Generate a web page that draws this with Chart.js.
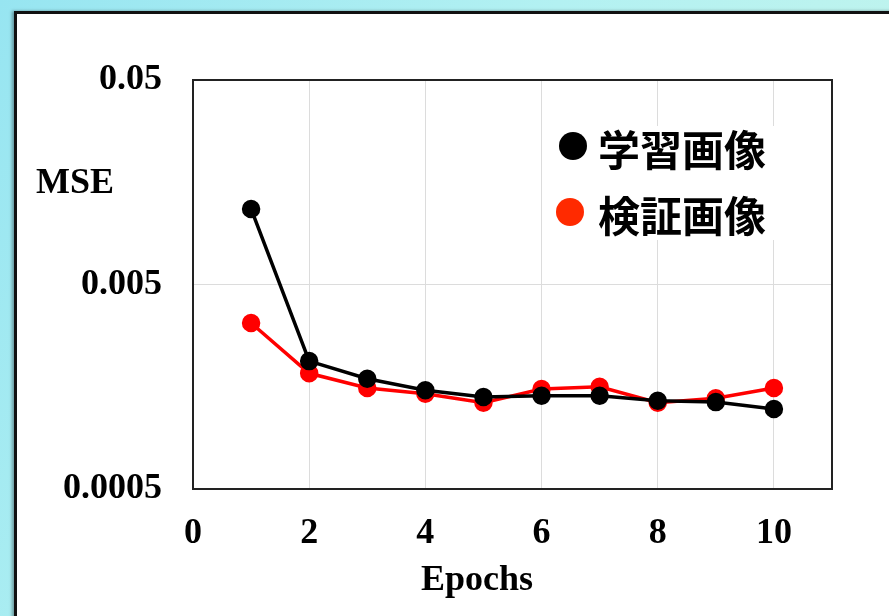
<!DOCTYPE html>
<html lang="ja">
<head>
<meta charset="utf-8"/>
<title>MSE vs Epochs</title>
<script src="https://cdn.jsdelivr.net/npm/chart.js@4.4.1/dist/chart.umd.min.js"></script>
<style>
  html, body { margin: 0; padding: 0; width: 889px; height: 616px; overflow: hidden; }
  body { background: linear-gradient(120deg, #97e5f1 0%, #b3f1f2 45%, #c8f6ea 100%); position: relative; }
  #panel {
    position: absolute; left: 14px; top: 11px; width: 900px; height: 620px;
    background: #fff; border: 3px solid #111; box-shadow: -2px 0 3px rgba(0,0,0,0.35);
  }
  #myChart { position: absolute; left: 0; top: 0; }
</style>
</head>
<body>
<div id="panel"></div>
<canvas id="myChart" width="889" height="616"></canvas>
<script>
  // values
  var epochs = [1, 2, 3, 4, 5, 6, 7, 8, 9, 10];
  var trainMSE = [0.0117, 0.00211, 0.00173, 0.00152, 0.00141, 0.00143, 0.00143, 0.00135, 0.00133, 0.00123];
  var validMSE = [0.00324, 0.00184, 0.00156, 0.00146, 0.00132, 0.00154, 0.00158, 0.00132, 0.00139, 0.00156];
  var seriesNames = ["学習画像", "検証画像"];
  var yTicks = [0.0005, 0.005, 0.05];
  var yTickLabels = ["0.0005", "0.005", "0.05"];

  var serif = "'Liberation Serif', 'Times New Roman', serif";

  function toPoints(xs, ys) {
    return xs.map(function (x, i) { return { x: x, y: ys[i] }; });
  }

  // draws the box round the plot, the axis labels and the legend
  var decorations = {
    id: "decorations",
    beforeDatasetsDraw: function (chart) {
      var a = chart.chartArea, ctx = chart.ctx;
      ctx.save();
      ctx.strokeStyle = "#222";
      ctx.lineWidth = 2;
      ctx.strokeRect(a.left, a.top, a.right - a.left, a.bottom - a.top);
      ctx.restore();
    },
    afterDraw: function (chart) {
      var ctx = chart.ctx;
      ctx.save();
      ctx.fillStyle = "#000";
      ctx.font = "bold 36px " + serif;
      ctx.textBaseline = "middle";
      ctx.textAlign = "left";
      ctx.fillText("MSE", 36, 184);
      ctx.textAlign = "center";
      ctx.fillText("Epochs", 477, 581);

      // legend
      ctx.textAlign = "left";
      ctx.fillStyle = "#fff";
      ctx.fillRect(552, 126, 240, 114);
      var rows = [
        { y: 148, cx: 573, color: "#000" },
        { y: 214, cx: 570, color: "#ff2a00" }
      ];
      ctx.font = "bold 42px 'Noto Sans CJK JP', sans-serif";
      rows.forEach(function (r, i) {
        ctx.fillStyle = r.color;
        ctx.beginPath();
        ctx.arc(r.cx, r.y - 2, 14, 0, Math.PI * 2);
        ctx.fill();
        ctx.fillStyle = "#000";
        ctx.fillText(seriesNames[i], 598, r.y + 2);
      });
      ctx.restore();
    }
  };

  new Chart(document.getElementById("myChart"), {
    type: "line",
    data: {
      datasets: [
        {
          label: seriesNames[0],
          data: toPoints(epochs, trainMSE),
          borderColor: "#000",
          backgroundColor: "#000",
          borderWidth: 3.5,
          pointRadius: 7.5,
          pointHoverRadius: 7.5,
          tension: 0
        },
        {
          label: seriesNames[1],
          data: toPoints(epochs, validMSE),
          borderColor: "#ff0000",
          backgroundColor: "#ff0000",
          borderWidth: 3.5,
          pointRadius: 7.5,
          pointHoverRadius: 7.5,
          tension: 0
        }
      ]
    },
    options: {
      responsive: false,
      animation: false,
      layout: { padding: { top: 80, right: 57, left: 0, bottom: 0 } },
      plugins: {
        legend: { display: false },
        tooltip: { enabled: false }
      },
      scales: {
        x: {
          type: "linear",
          min: 0,
          max: 11,
          afterFit: function (s) { s.height = 127; },
          ticks: {
            stepSize: 2,
            includeBounds: false,
            padding: 23,
            color: "#000",
            font: { family: serif, size: 36, weight: "bold" }
          },
          grid: { color: "#dcdcdc", lineWidth: 1, drawTicks: false },
          border: { color: "#222", width: 2 }
        },
        y: {
          type: "logarithmic",
          min: yTicks[0],
          max: yTicks[yTicks.length - 1],
          afterFit: function (s) { s.width = 193; },
          afterBuildTicks: function (s) {
            s.ticks = yTicks.map(function (v) { return { value: v }; });
          },
          ticks: {
            padding: 31,
            color: "#000",
            font: { family: serif, size: 36, weight: "bold" },
            callback: function (value, index) { return yTickLabels[index]; }
          },
          grid: { color: "#dcdcdc", lineWidth: 1, drawTicks: false },
          border: { color: "#222", width: 2 }
        }
      }
    },
    plugins: [decorations]
  });
</script>
</body>
</html>
